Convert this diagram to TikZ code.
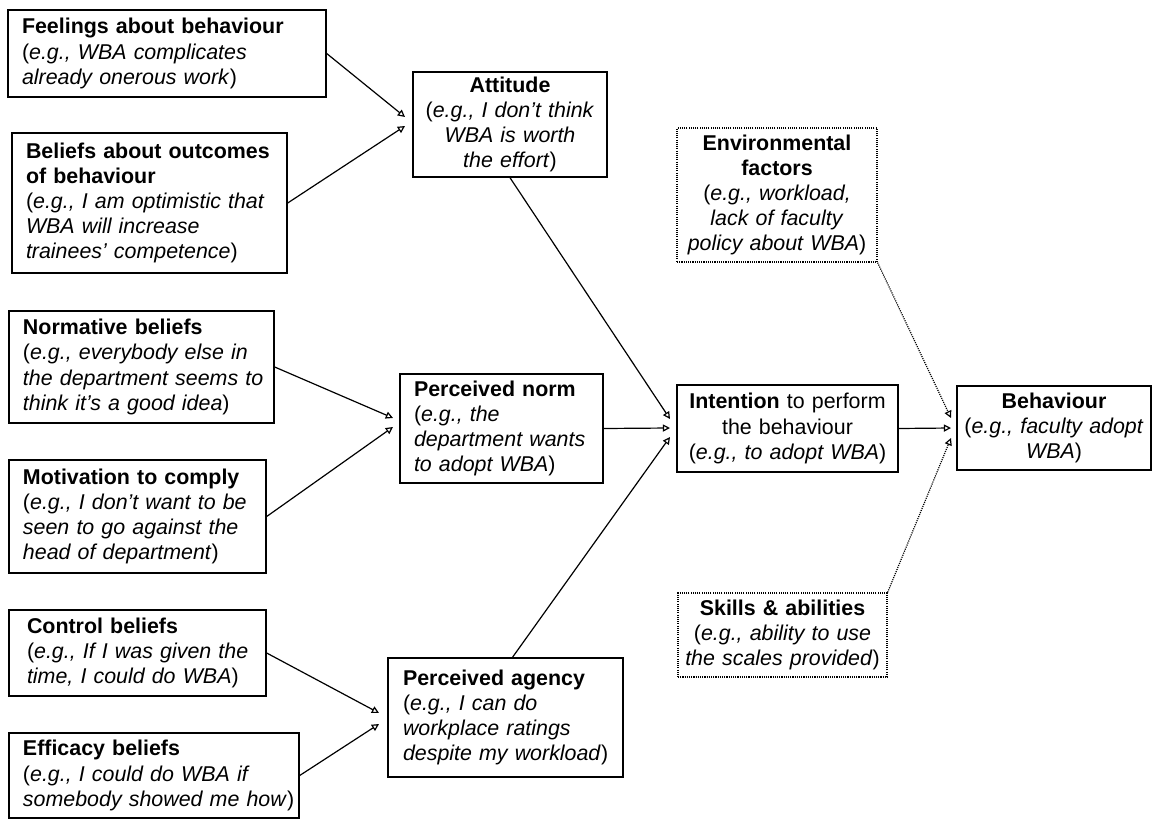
\documentclass[tikz,border=0pt]{standalone}
\usepackage{fontspec}
\setmainfont{Liberation Sans}
\usetikzlibrary{arrows.meta}
\newcommand\Ln[1]{\mbox{#1}}
\begin{document}
\begin{tikzpicture}[x=0.5pt,y=-0.5pt,
  box/.style={draw, line width=0.7pt, inner ysep=0pt,
    font=\fontsize{10.7pt}{12.6pt}\selectfont},
  lbox/.style={box, align=left, inner xsep=7pt},
  cbox/.style={box, align=center, inner xsep=3pt},
  dbox/.style={cbox, line width=0.6pt, dash pattern=on 0.55pt off 0.55pt},
  conn/.style={line width=0.6pt, -{Triangle[open,length=3.6pt,width=3.6pt]}},
  dconn/.style={conn, dash pattern=on 0.55pt off 0.55pt}
]
\useasboundingbox (0,0) rectangle (1157,819);

% left column
\node[lbox, text width=145pt, minimum width=159pt, minimum height=43.5pt] (feel) at (167,53.5)
  {\Ln{\textbf{Feelings about behaviour}}\\
   \Ln{(\textit{e.g., WBA complicates}}\\
   \Ln{\textit{already onerous work})}};
\node[lbox, text width=123.5pt, minimum width=137.5pt, minimum height=70pt] (beli) at (149.5,203)
  {\Ln{\textbf{Beliefs about outcomes}}\\
   \Ln{\textbf{of behaviour}}\\
   \Ln{(\textit{e.g., I am optimistic that}}\\
   \Ln{\textit{WBA will increase}}\\
   \Ln{\textit{trainees’ competence})}};
\node[lbox, text width=118.5pt, minimum width=132.5pt, minimum height=56pt] (norm) at (141.5,367)
  {\Ln{\textbf{Normative beliefs}}\\
   \Ln{(\textit{e.g., everybody else in}}\\
   \Ln{\textit{the department seems to}}\\
   \Ln{\textit{think it’s a good idea})}};
\node[lbox, text width=114.5pt, minimum width=128.5pt, minimum height=56.5pt] (moti) at (137.5,516.5)
  {\Ln{\textbf{Motivation to comply}}\\
   \Ln{(\textit{e.g., I don’t want to be}}\\
   \Ln{\textit{seen to go against the}}\\
   \Ln{\textit{head of department})}};
\node[lbox, inner xsep=9pt, text width=110.5pt, minimum width=128.5pt, minimum height=43pt] (ctrl) at (137.5,653)
  {\Ln{\textbf{Control beliefs}}\\
   \Ln{(\textit{e.g., If I was given the}}\\
   \Ln{\textit{time, I could do WBA})}};
\node[lbox, text width=131pt, minimum width=145pt, minimum height=42.5pt] (effi) at (154,775.5)
  {\Ln{\textbf{Efficacy beliefs}}\\
   \Ln{(\textit{e.g., I could do WBA if}}\\
   \Ln{\textit{somebody showed me how})}};

% middle column
\node[cbox, text width=91pt, minimum width=97pt, minimum height=52.5pt] (att) at (510,124.5)
  {\Ln{\textbf{Attitude}}\\
   \Ln{(\textit{e.g., I don’t think}}\\
   \Ln{\textit{WBA is worth}}\\
   \Ln{\textit{the effort})}};
\node[lbox, text width=87.5pt, minimum width=101.5pt, minimum height=54.5pt] (pnorm) at (501.5,428.5)
  {\Ln{\textbf{Perceived norm}}\\
   \Ln{(\textit{e.g., the}}\\
   \Ln{\textit{department wants}}\\
   \Ln{\textit{to adopt WBA})}};
\node[lbox, inner xsep=7.5pt, text width=102.5pt, minimum width=117.5pt, minimum height=59.5pt] (agen) at (505.5,717.5)
  {\Ln{\textbf{Perceived agency}}\\
   \Ln{(\textit{e.g., I can do}}\\
   \Ln{\textit{workplace ratings}}\\
   \Ln{\textit{despite my workload})}};

% right part
\node[cbox, text width=104.5pt, minimum width=110.5pt, minimum height=43.5pt] (inte) at (787.5,428.5)
  {\Ln{\textbf{Intention} to perform}\\
   \Ln{the behaviour}\\
   \Ln{(\textit{e.g., to adopt WBA})}};
\node[cbox, text width=91pt, minimum width=97pt, minimum height=42pt] (behv) at (1054,428)
  {\Ln{\textbf{Behaviour}}\\
   \Ln{(\textit{e.g., faculty adopt}}\\
   \Ln{\textit{WBA})}};
\node[dbox, text width=94pt, minimum width=100pt, minimum height=67pt] (env) at (777,195)
  {\Ln{\textbf{Environmental}}\\
   \Ln{\textbf{factors}}\\
   \Ln{(\textit{e.g., workload,}}\\
   \Ln{\textit{lack of faculty}}\\
   \Ln{\textit{policy about WBA})}};
\node[dbox, text width=98.5pt, minimum width=104.5pt, minimum height=42pt] (skil) at (782.5,635)
  {\Ln{\textbf{Skills \& abilities}}\\
   \Ln{(\textit{e.g., ability to use}}\\
   \Ln{\textit{the scales provided})}};

% arrow tip points
\coordinate (attA) at (405,117);
\coordinate (attB) at (405,126);
\coordinate (pnA) at (393,418);
\coordinate (pnB) at (393,427);
\coordinate (agA) at (379,713);
\coordinate (agB) at (379,724);
\coordinate (inA) at (670,419);
\coordinate (inB) at (670,428);
\coordinate (inC) at (670,437);
\coordinate (bhA) at (951,418);
\coordinate (bhB) at (951,428);
\coordinate (bhC) at (951,438);

% connectors
\draw[conn] (feel.east) -- (attA);
\draw[conn] (beli.east) -- (attB);
\draw[conn] (norm.east) -- (pnA);
\draw[conn] (moti.east) -- (pnB);
\draw[conn] (ctrl.east) -- (agA);
\draw[conn] (effi.east) -- (agB);
\draw[conn] (att.south) -- (inA);
\draw[conn] (pnorm.east) -- (inB);
\draw[conn] ([xshift=3.5pt]agen.north) -- (inC);
\draw[conn] (inte.east) -- (bhB);
\draw[dconn] (env.south east) -- (bhA);
\draw[dconn] (skil.north east) -- (bhC);
\end{tikzpicture}
\end{document}
